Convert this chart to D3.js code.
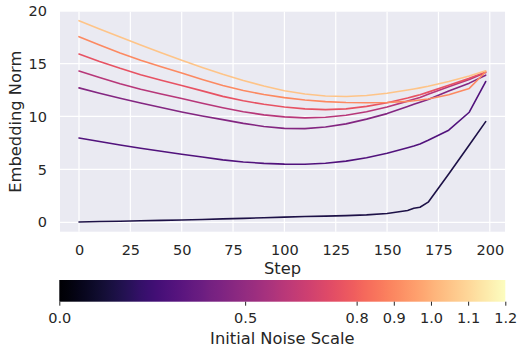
<!DOCTYPE html>
<html>
<head>
<meta charset="utf-8">
<script src="https://cdn.jsdelivr.net/npm/d3@7"></script>
<style>
  body { margin: 0; background: #fff; }
  svg text { font-family: "DejaVu Sans", sans-serif; fill: #262626; }
</style>
</head>
<body>
<svg id="chart" width="519" height="351"></svg>
<script>
(function () {
  // Data
  var steps = [0, 10, 20, 30, 40, 50, 60, 70, 80, 90, 100, 110, 120, 130, 140, 150, 160, 163, 166, 170, 180, 190, 198]
  var noiseScales = [0.0, 0.5, 0.8, 0.9, 1.0, 1.1, 1.2]
  var norm00 = [0.03, 0.07, 0.10, 0.14, 0.18, 0.22, 0.27, 0.32, 0.37, 0.43, 0.49, 0.54, 0.58, 0.63, 0.70, 0.83, 1.12, 1.32, 1.42, 1.90, 4.57, 7.30, 9.51]
  var norm05 = [7.97, 7.63, 7.30, 7.00, 6.71, 6.43, 6.17, 5.90, 5.70, 5.57, 5.50, 5.49, 5.58, 5.78, 6.10, 6.52, 7.05, 7.20, 7.40, 7.75, 8.70, 10.40, 13.30]
  var norm08 = [12.70, 12.20, 11.73, 11.28, 10.85, 10.43, 10.05, 9.70, 9.35, 9.05, 8.87, 8.85, 9.00, 9.30, 9.75, 10.27, 10.95, 11.15, 11.35, 11.60, 12.40, 13.15, 13.90]
  var norm09 = [14.30, 13.68, 13.10, 12.58, 12.12, 11.70, 11.25, 10.83, 10.45, 10.15, 9.96, 9.87, 9.92, 10.12, 10.45, 10.90, 11.45, 11.62, 11.80, 12.10, 12.80, 13.50, 14.15]
  var norm10 = [15.90, 15.20, 14.55, 13.95, 13.42, 12.92, 12.42, 11.90, 11.48, 11.15, 10.90, 10.72, 10.65, 10.72, 10.95, 11.30, 11.75, 11.90, 12.05, 12.30, 12.95, 13.60, 14.20]
  var norm11 = [17.54, 16.75, 16.00, 15.32, 14.70, 14.10, 13.50, 12.93, 12.45, 12.08, 11.78, 11.55, 11.40, 11.32, 11.29, 11.32, 11.43, 11.48, 11.55, 11.65, 12.05, 12.65, 14.22]
  var norm12 = [19.05, 18.27, 17.50, 16.76, 16.02, 15.32, 14.63, 13.98, 13.40, 12.87, 12.43, 12.12, 11.93, 11.88, 11.98, 12.20, 12.50, 12.60, 12.70, 12.85, 13.30, 13.82, 14.32]
  var seriesValues = [norm00, norm05, norm08, norm09, norm10, norm11, norm12]

  var xTicks = [0, 25, 50, 75, 100, 125, 150, 175, 200]
  var yTicks = [0, 5, 10, 15, 20]
  var cbarTicks = [0.0, 0.5, 0.8, 0.9, 1.0, 1.1, 1.2]

  var BG = '#eaeaf2'
  var TEXT = '#262626'
  var TICK_FONT = 14.5
  var LABEL_FONT = 16.3

  var plot = { left: 60, right: 505, top: 11.7, bottom: 231.7 }
  var cbar = { left: 59.3, right: 505.3, top: 280, bottom: 301.7 }

  var svg = d3.select('#chart')

  var x = d3.scaleLinear().domain([-9.25, 207.4]).range([plot.left, plot.right])
  var y = d3.scaleLinear().domain([-0.89, 19.9]).range([plot.bottom, plot.top])

  // seaborn "magma" palette, n colours (ends excluded)
  function paletteColor (i, n) {
    return d3.interpolateMagma((i + 1) / (n + 1))
  }

  // background
  svg.append('rect')
    .attr('x', plot.left)
    .attr('y', plot.top)
    .attr('width', plot.right - plot.left)
    .attr('height', plot.bottom - plot.top)
    .attr('fill', BG)

  // grid
  var grid = svg.append('g').attr('class', 'grid')
  grid.selectAll('line.gx')
    .data(xTicks)
    .enter().append('line')
    .attr('class', 'gx')
    .attr('x1', function (d) { return x(d) })
    .attr('x2', function (d) { return x(d) })
    .attr('y1', plot.top)
    .attr('y2', plot.bottom)
  grid.selectAll('line.gy')
    .data(yTicks.filter(function (d) { return y(d) >= plot.top }))
    .enter().append('line')
    .attr('class', 'gy')
    .attr('x1', plot.left)
    .attr('x2', plot.right)
    .attr('y1', function (d) { return y(d) })
    .attr('y2', function (d) { return y(d) })
  grid.selectAll('line')
    .attr('stroke', '#fff')
    .attr('stroke-width', 1.2)

  // lines
  var line = d3.line()
    .x(function (d, i) { return x(steps[i]) })
    .y(function (d) { return y(d) })

  svg.append('g')
    .attr('class', 'lines')
    .selectAll('path')
    .data(seriesValues)
    .enter().append('path')
    .attr('d', line)
    .attr('fill', 'none')
    .attr('stroke', function (d, i) { return paletteColor(i, noiseScales.length) })
    .attr('stroke-width', 1.6)
    .attr('stroke-linejoin', 'round')
    .attr('stroke-linecap', 'round')

  // axes
  var xAxis = svg.append('g')
    .attr('transform', 'translate(0,' + plot.bottom + ')')
    .call(d3.axisBottom(x).tickValues(xTicks).tickSize(0).tickPadding(12.8))
  var yAxis = svg.append('g')
    .attr('transform', 'translate(' + plot.left + ',0)')
    .call(d3.axisLeft(y).tickValues(yTicks).tickSize(0).tickPadding(13))
  ;[xAxis, yAxis].forEach(function (g) {
    g.select('.domain').remove()
    g.selectAll('text')
      .attr('font-size', TICK_FONT)
      .attr('font-family', null)
      .style('fill', TEXT)
  })

  svg.append('text')
    .attr('x', (plot.left + plot.right) / 2)
    .attr('y', 273.6)
    .attr('text-anchor', 'middle')
    .attr('font-size', LABEL_FONT)
    .text('Step')

  svg.append('text')
    .attr('transform', 'translate(20.5,' + (plot.top + plot.bottom) / 2 + ') rotate(-90)')
    .attr('text-anchor', 'middle')
    .attr('font-size', LABEL_FONT)
    .text('Embedding Norm')

  // colorbar
  var c = d3.scaleLinear().domain([0, 1.2]).range([cbar.left, cbar.right])
  var grad = svg.append('defs').append('linearGradient')
    .attr('id', 'magma')
    .attr('x1', '0%').attr('x2', '100%')
    .attr('y1', '0%').attr('y2', '0%')
  grad.selectAll('stop')
    .data(d3.range(0, 1.0001, 0.02))
    .enter().append('stop')
    .attr('offset', function (d) { return (d * 100) + '%' })
    .attr('stop-color', function (d) { return d3.interpolateMagma(d) })

  svg.append('rect')
    .attr('x', cbar.left)
    .attr('y', cbar.top)
    .attr('width', cbar.right - cbar.left)
    .attr('height', cbar.bottom - cbar.top)
    .attr('fill', 'url(#magma)')

  var cAxis = svg.append('g')
    .attr('transform', 'translate(0,' + cbar.bottom + ')')
    .call(d3.axisBottom(c).tickValues(cbarTicks).tickFormat(d3.format('.1f')).tickSize(4).tickPadding(7.4))
  cAxis.select('.domain').remove()
  cAxis.selectAll('line').attr('stroke', TEXT).attr('stroke-width', 1)
  cAxis.selectAll('text')
    .attr('font-size', TICK_FONT)
    .attr('font-family', null)
    .style('fill', TEXT)

  svg.append('text')
    .attr('x', (cbar.left + cbar.right) / 2)
    .attr('y', 343.6)
    .attr('text-anchor', 'middle')
    .attr('font-size', LABEL_FONT)
    .text('Initial Noise Scale')
})()
</script>
</body>
</html>
